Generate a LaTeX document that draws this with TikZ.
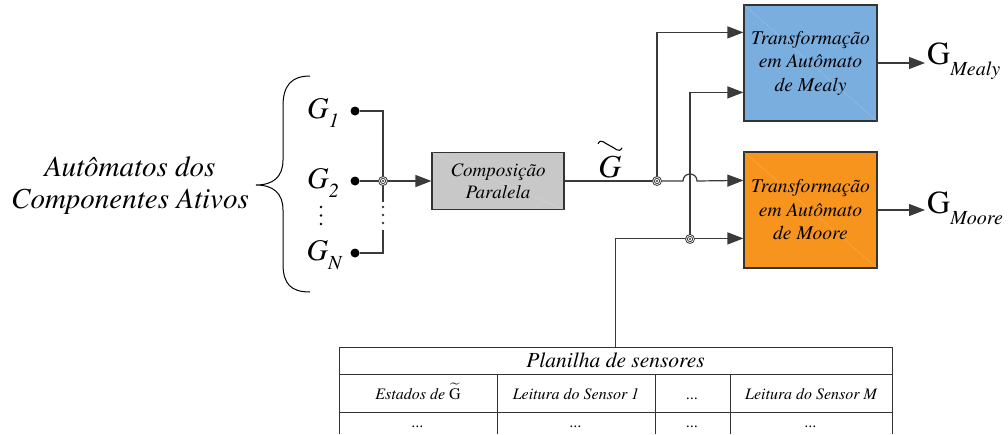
\documentclass[tikz,border=0pt]{standalone}
\usepackage[T1]{fontenc}
\usepackage{times}
\usepackage{amsmath}
\usetikzlibrary{arrows.meta,calc}
\definecolor{mealyblue}{HTML}{7AAEDF}
\definecolor{mooreorange}{HTML}{F7941E}
\definecolor{compgray}{HTML}{C8C8C8}
\definecolor{wiregray}{HTML}{3A3A3A}
\newcommand\fsz[2]{\fontsize{#1}{#2}\selectfont}
\newcommand\Gsub[2]{#1\raisebox{-0.32em}{\fsz{20}{20}\itshape #2}}
\tikzset{
  wire/.style={draw=wiregray, line width=1.2},
  tip/.style={-{Triangle[length=16,width=12]}},
  block/.style={draw=black!80, line width=1.2, minimum width=133, align=center, inner sep=0pt},
  tbl/.style={draw=black!80, line width=1},
  cell/.style={font=\fsz{16}{18}\itshape, inner sep=0pt, anchor=base},
  pin/.style={circle, fill=black, minimum size=9, inner sep=0pt},
  glabel/.style={font=\fsz{30}{32}\itshape, inner sep=0pt},
  sheen/.style={white, opacity=0.22},
  junc/.pic={
    \fill[white] (0,0) circle[radius=4.5];
    \draw[wiregray,line width=0.8] (0,0) circle[radius=4.5] (0,0) circle[radius=2.6];
    \fill[wiregray] (0,0) circle[radius=1.2];
  }
}
\begin{document}
\begin{tikzpicture}[x=1pt,y=-1pt]
\useasboundingbox (0,0) rectangle (1008,434);

% left caption and brace
\node[font=\fsz{29}{32}\itshape, align=center, inner sep=0pt] (caption) at (130,186)
  {Autômatos dos\\Componentes Ativos};
\draw[line width=1] (310,76) .. controls (291,76) and (283,86) .. (283,106)
  -- (283,160) .. controls (283,177) and (273,185) .. (256,185)
  .. controls (273,185) and (283,193) .. (283,210)
  -- (283,264) .. controls (283,284) and (291,292) .. (310,292);

% component automata
\node[glabel] (g1) at (323,113) {\Gsub{G}{1}};
\node[glabel] (g2) at (323,183) {\Gsub{G}{2}};
\node[glabel] (gn) at (324,255) {\Gsub{G}{N}};
\node[pin] (d1) at (355,111) {};
\node[pin] (d2) at (355,181) {};
\node[pin] (dn) at (355,253) {};
\foreach \yy in {207,215.5,224} \fill (321,\yy) circle[radius=1.4];
\foreach \yy in {207,215,223} \fill[wiregray] (383,\yy) circle[radius=1.3];

\coordinate (b1) at (383,111);
\coordinate (bn) at (383,253);
\coordinate (gapT) at (383,202);
\coordinate (gapB) at (383,230);
\coordinate (jA) at (383,181);

% parallel composition
\node[block, fill=compgray, minimum width=132, minimum height=57,
      font=\fsz{19}{22}\itshape] (comp) at (498,181) {Composição\\Paralela};
\draw[sheen] (comp.north west) -- (comp.south east);

\draw[wire] (d1) -- (b1) -- (gapT);
\draw[wire] (dn) -- (bn) -- (gapB);
\draw[wire,tip] (d2) -- (comp.west);
\pic at (jA) {junc};

% transformation blocks
\node[block, fill=mealyblue, minimum height=116, font=\fsz{19.5}{23.5}\itshape]
  (mealy) at (810.5,63) {Transformação\\em Autômato\\de Mealy};
\draw[sheen] (mealy.north west) -- (mealy.south east);
\node[block, fill=mooreorange, minimum height=116, font=\fsz{19.5}{23.5}\itshape]
  (moore) at (810.5,210) {Transformação\\em Autômato\\de Moore};
\draw[sheen] (moore.north west) -- (moore.south east);

% composed automaton wiring
\coordinate (jB) at (657,181);
\coordinate (hop) at (690,181);
\coordinate (jC) at (690,239);
\node[font=\fsz{32}{34}\itshape, inner sep=0pt] (gt) at (610,167) {G};
\draw[line width=1.1] ([shift={(-12,-12)}]gt.north) .. controls +(3,-6) and +(-5,-2) .. ([shift={(0,-10)}]gt.north)
  .. controls +(5,2) and +(-3,6) .. ([shift={(12,-8)}]gt.north);
\draw[wire] (comp.east) -- (jB);
\draw[wire,tip] (jB) |- ([yshift=-28]mealy.north west);
\draw[wire,tip] (jB) -- ([xshift=-7]hop) .. controls +(0,-9.3) and +(0,-9.3) .. ([xshift=7]hop)
  -- ([yshift=-29]moore.north west);
\draw[wire,tip] (jC) |- ([yshift=-88]mealy.north west);
\pic at (jB) {junc};

% sensor table
\node[inner sep=0pt, minimum width=553, minimum height=27,
      font=\fsz{21.5}{24}\itshape] (title) at (615.5,360.5) {Planilha de sensores};
\draw[wire,tip] (title.north) |- ([yshift=-87]moore.north west);
\pic at (jC) {junc};
\draw[tbl] (339,434) -- (339,347) -- (892,347) -- (892,434);
\draw[tbl] (339,374) -- (892,374);
\draw[tbl] (339,412) -- (892,412);
\foreach \xx in {497,655,730} \draw[tbl] (\xx,374) -- (\xx,434);
\node[cell] (h1) at (418,399) {Estados de $\widetilde{\text{\upshape G}}$};
\node[cell] (h2) at (576,399) {Leitura do Sensor 1};
\node[cell] (h3) at (692.5,399) {...};
\node[cell] (h4) at (811,399) {Leitura do Sensor M};
\node[cell] (r1) at (418,427) {...};
\node[cell] (r2) at (576,427) {...};
\node[cell] (r3) at (692.5,427) {...};
\node[cell] (r4) at (811,427) {...};

% outputs
\coordinate (outM) at (925,63);
\coordinate (outR) at (925,210);
\draw[wire,tip] (mealy.east) -- (outM);
\draw[wire,tip] (moore.east) -- (outR);
\node[anchor=west, inner sep=0pt, font=\fsz{32}{34}] (gmealy) at (927,61)
  {G\raisebox{-0.33em}{\fsz{20}{20}\itshape Mealy}};
\node[anchor=west, inner sep=0pt, font=\fsz{32}{34}] (gmoore) at (927,208)
  {G\raisebox{-0.33em}{\fsz{20}{20}\itshape Moore}};
\end{tikzpicture}
\end{document}
